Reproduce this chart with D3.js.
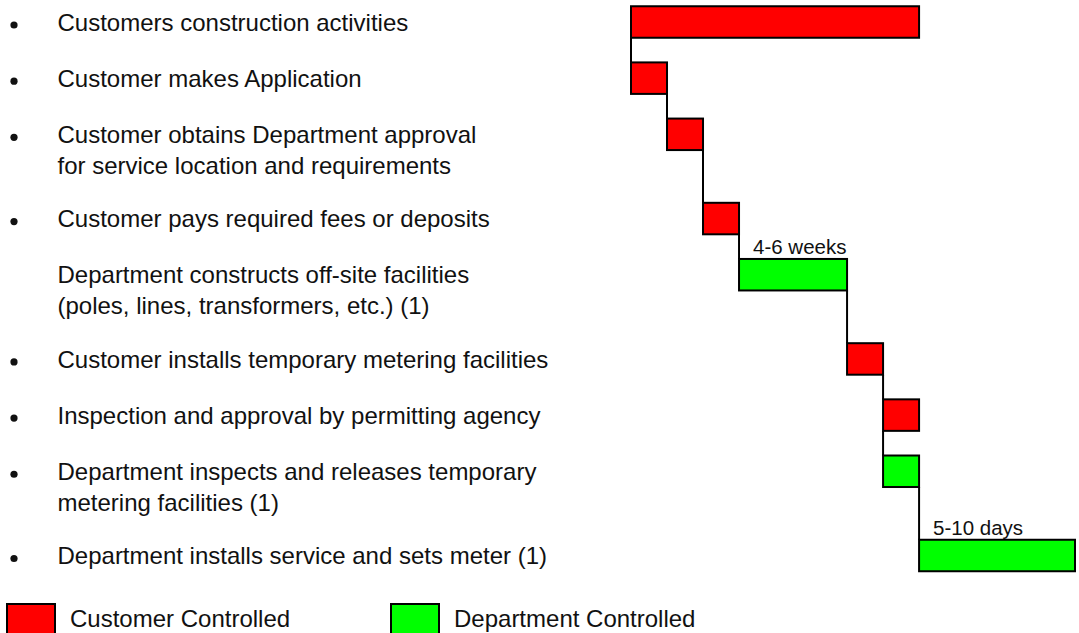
<!DOCTYPE html>
<html>
<head>
<meta charset="utf-8">
<script src="https://cdn.jsdelivr.net/npm/d3@7"></script>
<style>
  html, body { margin: 0; padding: 0; background: #fff; }
  svg { display: block; font-family: "Liberation Sans", Arial, sans-serif; }
</style>
</head>
<body>
<div id="chart"></div>
<script>
// task data (units on the time axis are relative steps)
const taskLabels = [
    ["Customers construction activities"],
    ["Customer makes Application"],
    ["Customer obtains Department approval", "for service location and requirements"],
    ["Customer pays required fees or deposits"],
    ["Department constructs off-site facilities", "(poles, lines, transformers, etc.) (1)"],
    ["Customer installs temporary metering facilities"],
    ["Inspection and approval by permitting agency"],
    ["Department inspects and releases temporary", "metering facilities (1)"],
    ["Department installs service and sets meter (1)"]
];
const taskStart = [0, 0, 1, 2, 3, 6, 7, 7, 8];
const taskDuration = [8, 1, 1, 1, 3, 1, 1, 1, 4.33];
const taskOwner = ["Customer", "Customer", "Customer", "Customer", "Department",
                   "Customer", "Customer", "Department", "Department"];
const taskBullet = [true, true, true, true, false, true, true, true, true];
const taskNotes = ["", "", "", "", "4-6 weeks", "", "", "", "5-10 days"];

const legendOwners = ["Customer", "Department"];
const legendLabels = ["Customer Controlled", "Department Controlled"];

const width = 1079;
const height = 633;
const fontSize = 24;
const lineGap = 31;
const barH = 31.5;

// each row advances one slot, plus half a slot per extra text line
let slot = 0;
const tasks = taskLabels.map((lines, i) => {
    const t = {
        lines,
        start: taskStart[i],
        end: taskStart[i] + taskDuration[i],
        owner: taskOwner[i],
        bullet: taskBullet[i],
        note: taskNotes[i],
        slot
    };
    slot += 1 + 0.5 * (lines.length - 1);
    return t;
});

const x = d3.scaleLinear()
    .domain([0, d3.max(tasks, d => d.end)])
    .range([631, 1075]);

const y = d3.scaleLinear()
    .domain([0, tasks[tasks.length - 1].slot])
    .range([22, 555.5]);

const color = d3.scaleOrdinal()
    .domain(["Customer", "Department"])
    .range(["#ff0000", "#00ff00"]);

const svg = d3.select("#chart").append("svg")
    .attr("width", width)
    .attr("height", height);

svg.append("rect")
    .attr("width", width)
    .attr("height", height)
    .attr("fill", "#fff");

// labels on the left
const rows = svg.append("g").selectAll("g")
    .data(tasks)
    .join("g");

rows.filter(d => d.bullet)
    .append("circle")
    .attr("cx", 14)
    .attr("cy", d => y(d.slot) + 3)
    .attr("r", 3.6)
    .attr("fill", "#111");

rows.append("text")
    .attr("font-size", fontSize)
    .attr("fill", "#111")
    .selectAll("tspan")
    .data(d => d.lines.map((l, k) => ({ l, k, base: y(d.slot) + 8.6 })))
    .join("tspan")
    .attr("x", 57.5)
    .attr("y", d => d.base + d.k * lineGap)
    .text(d => d.l);

// connectors between consecutive bars
const links = d3.pairs(tasks);
svg.append("g").selectAll("line")
    .data(links)
    .join("line")
    .attr("x1", d => x(d[1].start))
    .attr("x2", d => x(d[1].start))
    .attr("y1", d => y(d[0].slot) + barH / 2)
    .attr("y2", d => y(d[1].slot) - barH / 2)
    .attr("stroke", "#000")
    .attr("stroke-width", 2);

// bars
svg.append("g").selectAll("rect")
    .data(tasks)
    .join("rect")
    .attr("x", d => x(d.start))
    .attr("y", d => y(d.slot) - barH / 2)
    .attr("width", d => x(d.end) - x(d.start))
    .attr("height", barH)
    .attr("fill", d => color(d.owner))
    .attr("stroke", "#000")
    .attr("stroke-width", 2);

// duration notes above bars
svg.append("g").selectAll("text")
    .data(tasks.filter(d => d.note))
    .join("text")
    .attr("x", d => x(d.start) + 14)
    .attr("y", d => y(d.slot) - barH / 2 - 5)
    .attr("font-size", 20.5)
    .attr("fill", "#111")
    .text(d => d.note);

// legend
const legendX = [7, 391];
const legend = svg.append("g").selectAll("g")
    .data(legendOwners)
    .join("g")
    .attr("transform", (d, i) => `translate(${legendX[i]},604)`);

legend.append("rect")
    .attr("width", 48)
    .attr("height", barH)
    .attr("fill", d => color(d))
    .attr("stroke", "#000")
    .attr("stroke-width", 2);

legend.append("text")
    .attr("x", 63)
    .attr("y", 22.7)
    .attr("font-size", fontSize)
    .attr("fill", "#111")
    .text((d, i) => legendLabels[i]);
</script>
</body>
</html>
